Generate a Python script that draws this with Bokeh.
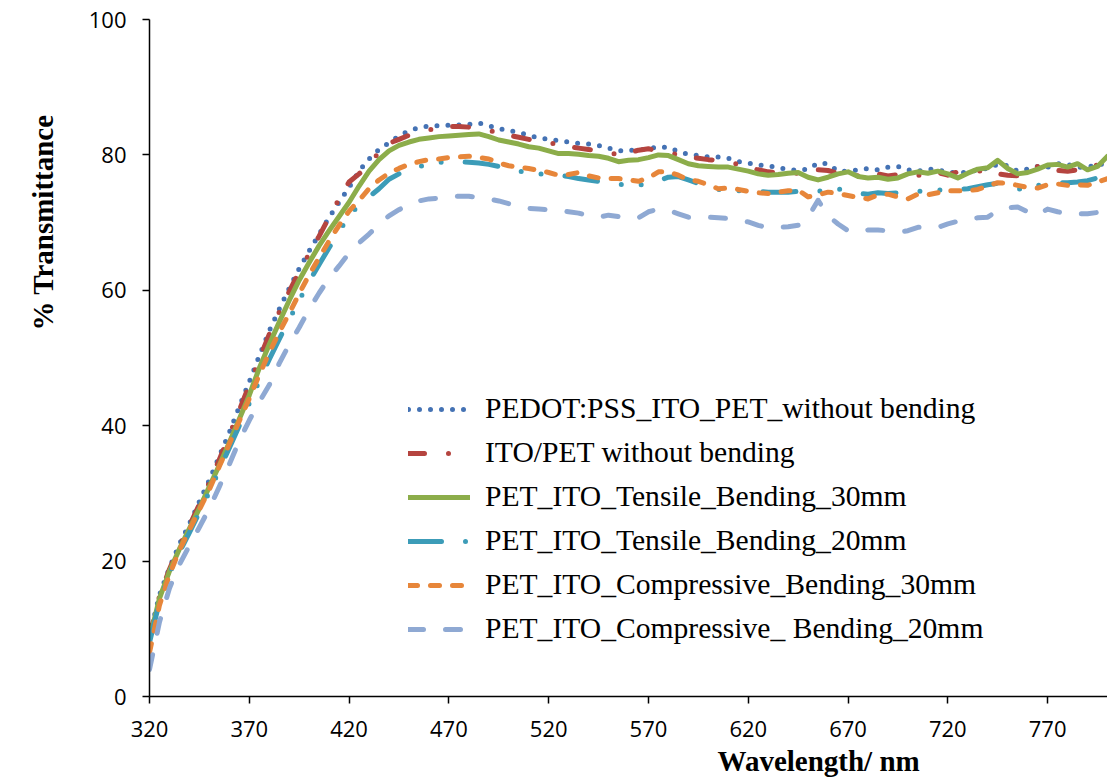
from bokeh.plotting import figure
from bokeh.models import Range1d, FixedTicker, Legend, LegendItem, Title
from bokeh.embed import file_html
from bokeh.resources import INLINE

# ---------------- data ----------------
wavelength = list(range(320, 801, 5))

pedot_pss_ito_pet = [
    9.0, 15.0, 19.0, 22.5, 25.5, 28.8, 32.0, 35.5, 39.0, 42.8,
    46.5, 50.3, 54.0, 57.2, 60.3, 63.2, 65.8, 68.3, 70.8, 73.0,
    75.2, 77.6, 79.4, 80.8, 81.8, 82.8, 83.6, 84.0, 84.3, 84.3,
    84.4, 84.4, 84.5, 84.7, 84.3, 83.9, 83.6, 83.3, 82.9, 82.5,
    82.3, 82.1, 81.9, 81.7, 81.6, 81.4, 81.0, 80.6, 80.7, 80.7,
    80.9, 81.2, 81.1, 80.5, 80.1, 79.9, 79.7, 79.7, 79.5, 79.0,
    78.8, 78.5, 78.4, 78.1, 77.9, 77.7, 77.9, 78.8, 78.7, 77.6,
    77.6, 77.8, 78.0, 77.8, 78.2, 78.3, 77.8, 77.6, 77.9, 77.8,
    77.4, 77.4, 77.4, 77.8, 78.0, 78.6, 78.4, 77.6, 77.9, 78.3,
    78.2, 78.7, 78.6, 78.2, 78.1, 78.7, 78.5]

ito_pet = [
    8.8, 14.8, 18.8, 22.2, 25.2, 28.4, 31.6, 35.0, 38.6, 42.3,
    46.0, 49.8, 53.5, 56.8, 59.8, 62.8, 65.4, 68.0, 70.8, 73.5,
    76.0, 77.2, 78.6, 80.4, 81.7, 82.3, 82.9, 83.3, 83.7, 84.0,
    84.2, 84.2, 84.1, 83.9, 83.6, 83.3, 82.9, 82.6, 82.3, 82.0,
    81.8, 81.5, 81.2, 81.0, 80.8, 80.6, 80.4, 80.0, 80.3, 80.7,
    80.9, 80.6, 80.4, 80.0, 79.7, 79.5, 79.3, 79.2, 79.0, 78.6,
    78.0, 77.8, 77.5, 77.4, 77.3, 77.3, 77.6, 77.8, 77.7, 77.3,
    77.0, 76.9, 77.0, 77.2, 76.9, 77.1, 77.3, 77.0, 77.1, 77.4,
    77.0, 77.5, 77.6, 77.6, 77.8, 77.2, 77.0, 76.9, 77.0, 78.3,
    77.8, 77.7, 77.6, 77.8, 77.5, 78.6, 78.3]

tensile_30mm = [
    8.5, 14.5, 18.5, 21.8, 24.8, 27.8, 31.0, 34.2, 37.5, 41.0,
    44.5, 48.5, 52.0, 55.3, 58.5, 61.5, 64.1, 66.6, 68.8, 70.9,
    73.0, 75.4, 77.6, 79.3, 80.6, 81.4, 81.9, 82.3, 82.5, 82.7,
    82.8, 82.9, 83.0, 83.1, 82.7, 82.2, 81.9, 81.6, 81.2, 81.0,
    80.6, 80.2, 80.2, 80.1, 79.9, 79.8, 79.5, 79.0, 79.2, 79.3,
    79.6, 80.0, 79.9, 79.3, 78.7, 78.4, 78.3, 78.2, 78.2, 77.9,
    77.6, 77.2, 77.0, 77.1, 77.3, 77.4, 76.7, 76.3, 76.7, 77.2,
    77.5, 76.8, 76.6, 76.7, 76.4, 76.6, 77.2, 77.5, 77.3, 77.6,
    77.2, 76.6, 77.3, 77.9, 78.1, 79.2, 78.0, 77.2, 77.4, 77.9,
    78.5, 78.6, 78.2, 78.7, 77.8, 78.3, 79.8]

tensile_20mm = [
    8.0, 14.0, 18.2, 21.3, 24.2, 27.2, 30.2, 33.5, 36.7, 40.0,
    43.3, 46.6, 49.8, 52.8, 55.7, 58.5, 61.3, 63.8, 66.3, 68.7,
    71.0, 72.6, 73.8, 75.0, 76.4, 77.2, 77.9, 78.3, 78.6, 78.9,
    78.9, 79.0, 78.9, 78.8, 78.6, 78.3, 78.0, 77.6, 77.4, 77.2,
    77.1, 77.0, 76.8, 76.5, 76.3, 76.1, 75.9, 75.7, 75.5, 75.5,
    75.8, 76.2, 76.7, 76.8, 76.3, 75.8, 75.3, 74.9, 74.8, 74.7,
    74.6, 74.6, 74.5, 74.5, 74.5, 74.6, 74.6, 74.6, 74.9, 75.0,
    74.6, 74.3, 74.2, 74.4, 74.3, 74.4, 74.5, 74.6, 74.7, 74.8,
    74.8, 74.9, 75.0, 75.3, 75.6, 75.8, 75.3, 75.0, 74.9, 75.5,
    75.8, 75.9, 75.9, 76.0, 76.2, 76.6, 77.0]

compressive_30mm = [
    6.5, 13.5, 18.0, 21.6, 24.6, 27.6, 30.6, 34.0, 37.3, 40.7,
    44.0, 47.5, 50.8, 53.8, 56.6, 59.5, 62.3, 64.8, 67.3, 69.6,
    71.7, 73.3, 75.0, 76.3, 77.3, 78.0, 78.6, 79.0, 79.3, 79.4,
    79.6, 79.7, 79.8, 79.6, 79.4, 78.8, 78.4, 78.2, 78.0, 77.7,
    77.4, 77.0, 77.1, 77.4, 76.9, 76.6, 76.5, 76.5, 76.3, 76.1,
    76.6, 77.5, 77.5, 77.0, 76.3, 76.1, 75.6, 75.0, 75.1, 74.9,
    74.6, 74.4, 74.3, 74.5, 74.7, 74.8, 73.8, 74.1, 74.5, 74.3,
    74.0, 73.7, 73.5, 74.1, 74.2, 73.8, 73.5, 74.2, 74.1, 74.4,
    74.7, 74.7, 74.7, 74.9, 75.4, 75.9, 75.8, 75.5, 75.2, 75.1,
    75.6, 75.7, 75.5, 75.6, 75.5, 76.0, 76.5]

compressive_20mm = [
    4.0, 11.0, 16.0, 19.5, 22.3, 25.0, 27.8, 31.0, 34.3, 37.8,
    40.8, 43.5, 46.0, 49.2, 52.0, 54.5, 57.2, 59.6, 61.8, 63.6,
    65.5, 67.0, 68.3, 69.8, 71.0, 71.9, 72.7, 73.2, 73.5, 73.6,
    73.8, 73.9, 73.9, 73.7, 73.5, 73.2, 72.8, 72.4, 72.1, 72.0,
    71.9, 71.8, 71.6, 71.4, 71.0, 70.8, 71.1, 70.9, 70.6, 70.7,
    71.6, 72.0, 71.8, 71.3, 70.8, 70.8, 70.8, 70.7, 70.6, 70.4,
    70.1, 69.6, 69.2, 69.3, 69.4, 69.6, 70.8, 73.3, 71.0, 69.8,
    68.8, 68.6, 68.9, 68.9, 68.8, 68.6, 68.8, 69.3, 69.3, 69.3,
    69.8, 70.2, 70.6, 70.7, 70.8, 71.8, 72.2, 72.3, 71.6, 71.1,
    72.0, 71.6, 71.3, 71.3, 71.3, 71.5, 71.8]

series_names = [
    "PEDOT:PSS_ITO_PET_without bending",
    "ITO/PET without bending",
    "PET_ITO_Tensile_Bending_30mm",
    "PET_ITO_Tensile_Bending_20mm",
    "PET_ITO_Compressive_Bending_30mm",
    "PET_ITO_Compressive_ Bending_20mm",
]
series_values = [pedot_pss_ito_pet, ito_pet, tensile_30mm, tensile_20mm,
                 compressive_30mm, compressive_20mm]

x_ticks = [320, 370, 420, 470, 520, 570, 620, 670, 720, 770]
y_ticks = [0, 20, 40, 60, 80, 100]

x_title = "Wavelength/ nm"
y_title = "% Transmittance"

# ---------------- styles ----------------
colors = ["#4472B4", "#B5443F", "#8CAD4A", "#3C9CB8", "#E7863A", "#8FA9D3"]
dashes = ["0 11", "16 24 0 22", "solid", "33 24 0 20 0 24", "9 13", "15 22"]
width = 5

p = figure(width=1107, height=782, output_backend="svg", toolbar_location=None,
           x_range=Range1d(320, 800), y_range=Range1d(0, 100),
           min_border_left=149, min_border_right=0, min_border_top=19,
           min_border_bottom=86)
p.background_fill_color = "white"
p.border_fill_color = "white"
p.outline_line_color = None
p.xgrid.visible = False
p.ygrid.visible = False

for ax in (p.xaxis[0], p.yaxis[0]):
    ax.axis_line_color = "black"
    ax.axis_line_width = 1.5
    ax.major_tick_line_color = "black"
    ax.major_tick_line_width = 1.5
    ax.major_tick_in = 0
    ax.major_tick_out = 7
    ax.minor_tick_line_color = None
    ax.major_label_text_font = "Open Sans"
    ax.major_label_text_font_size = "22px"
    ax.major_label_text_color = "black"

p.xaxis[0].ticker = FixedTicker(ticks=x_ticks)
p.yaxis[0].ticker = FixedTicker(ticks=y_ticks)
p.xaxis[0].major_label_standoff = 17
p.yaxis[0].major_label_standoff = 16

items = []
for name, vals, col, dash in zip(series_names, series_values, colors, dashes):
    r = p.line(wavelength, vals, line_color=col, line_width=width,
               line_dash=dash, line_cap="round", line_join="round")
    items.append(LegendItem(label=name, renderers=[r]))

legend = Legend(items=items, location=(259, 51), orientation="vertical",
                glyph_width=62, glyph_height=20, label_standoff=15,
                spacing=11, padding=0, margin=0,
                label_text_font="Liberation Serif", label_text_font_size="29.6px",
                label_text_color="black",
                background_fill_alpha=0, border_line_alpha=0)
p.add_layout(legend)

p.add_layout(Title(text=x_title, align="left", offset=568, standoff=6,
                   text_font="Liberation Serif", text_font_style="bold",
                   text_font_size="29px", text_color="black"), "below")
p.add_layout(Title(text=y_title, align="left", offset=366, standoff=50,
                   vertical_align="top",
                   text_font="Liberation Serif", text_font_style="bold",
                   text_font_size="29px", text_color="black"), "left")

open("out.html", "w").write(file_html(p, INLINE))
